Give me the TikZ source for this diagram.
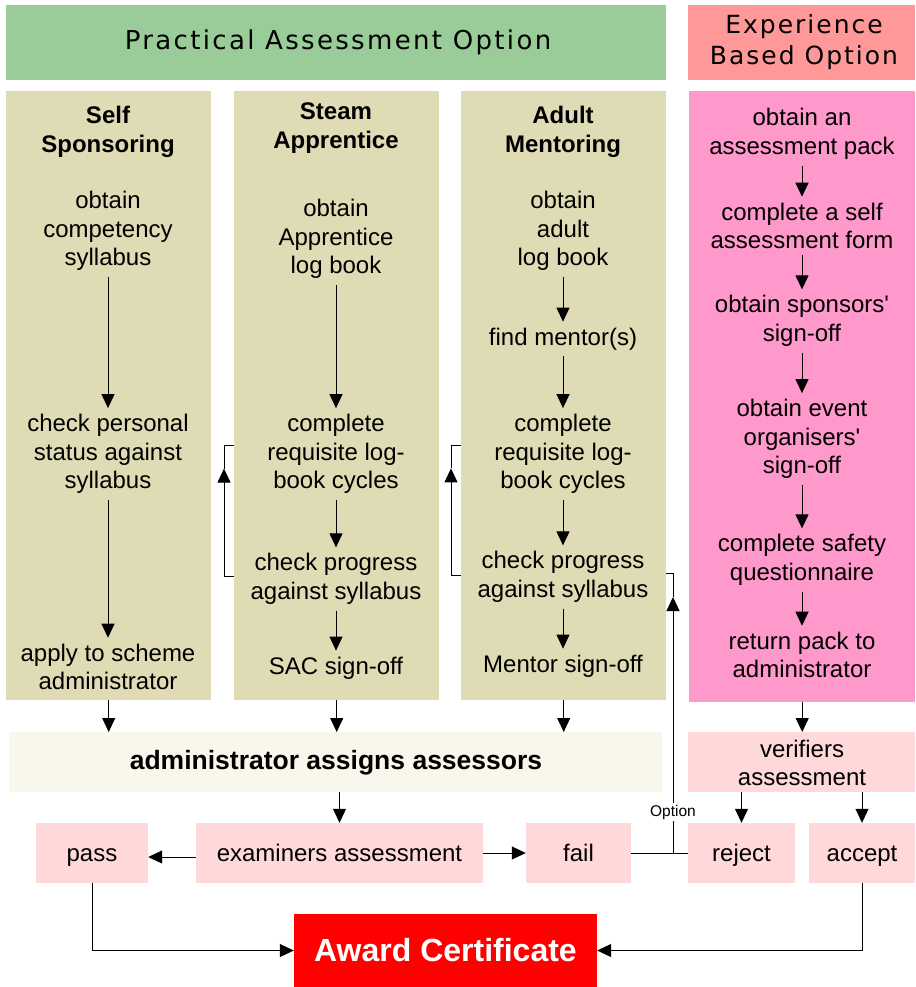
\documentclass[tikz,border=0pt]{standalone}
\usepackage{fontspec}
\setmainfont{Liberation Sans}
\newfontfamily\hdrfont[LetterSpace=8]{DejaVu Sans}
\newfontfamily\hdrfontb[LetterSpace=9]{DejaVu Sans}
\usetikzlibrary{arrows.meta,calc}
\definecolor{tanc}{HTML}{DFDBB4}
\definecolor{greenc}{HTML}{99CC99}
\definecolor{salmonc}{HTML}{FF9999}
\definecolor{pinkc}{HTML}{FF99CC}
\definecolor{creamc}{HTML}{F9F7EC}
\definecolor{lpinkc}{HTML}{FFD9D9}
\definecolor{redc}{HTML}{FF0000}
\newcommand\bodyfnt{\fontsize{24}{28.5}\selectfont}
\newcommand\hdrfnt{\hdrfont\fontsize{25}{31}\selectfont}
\newcommand\hdrfntA{\hdrfontb\fontsize{26}{31}\selectfont}
\begin{document}
\begin{tikzpicture}[x=1pt,y=-1pt,
  box/.style={draw=none, inner sep=0pt, anchor=north west},
  txt/.style={align=center, font=\bodyfnt, inner sep=6pt},
  ttl/.style={align=center, font=\bodyfnt\bfseries, inner sep=4pt},
  pbox/.style={fill=lpinkc, draw=none, inner sep=0pt, minimum height=60pt, font=\bodyfnt, align=center, text height=19pt, text depth=3pt},
  arr/.style={-{Triangle[length=14pt,width=13pt]}, line width=1pt},
  ln/.style={line width=1pt}]
\useasboundingbox (0,0) rectangle (915,987);
\fill[white] (0,0) rectangle (915,987);

% headers
\node[box, fill=greenc, minimum width=660pt, minimum height=75pt] (hdrA) at (6,5) {};
\node[font=\hdrfntA] (hdrAt) at (338,42) {Practical Assessment Option};
\node[box, fill=salmonc, minimum width=227pt, minimum height=75pt] (hdrB) at (688,5) {};
\node[font=\hdrfnt, align=center] (hdrBt) at (804,42) {Experience\\Based Option};

% column boxes
\node[box, fill=tanc, minimum width=205pt, minimum height=609pt] (c1box) at (6,91) {};
\node[box, fill=tanc, minimum width=205pt, minimum height=609pt] (c2box) at (234,91) {};
\node[box, fill=tanc, minimum width=205pt, minimum height=609pt] (c3box) at (461,91) {};
\node[box, fill=pinkc, minimum width=226pt, minimum height=611pt] (c4box) at (689,91) {};

% column 1
\node[ttl] (c1t) at (108,132) {Self\\Sponsoring};
\node[txt] (c1a) at (108,231) {obtain\\competency\\syllabus};
\node[txt] (c1b) at (108,454) {check personal\\status against\\syllabus};
\node[txt] (c1c) at (108,667) {apply to scheme\\administrator};
\draw[arr] (c1a.south) -- (c1b.north);
\draw[arr] (c1b.south) -- (c1c.north);

% column 2
\node[ttl] (c2t) at (336,128) {Steam\\Apprentice};
\node[txt] (c2a) at (336,239) {obtain\\Apprentice\\log book};
\node[txt] (c2b) at (336,454) {complete\\requisite log-\\book cycles};
\node[txt] (c2c) at (336,579) {check progress\\against syllabus};
\node[txt] (c2d) at (336,668) {SAC sign-off};
\draw[arr] (c2a.south) -- (c2b.north);
\draw[arr] (c2b.south) -- (c2c.north);
\draw[arr] (c2c.south) -- (c2d.north);
\coordinate (l2a) at ($(c2box.west|-c2c)+(-10,-3)$);
\coordinate (l2b) at ($(c2box.west|-c2b)+(-10,-9)$);
\coordinate (l2m) at ($(l2a)!0.82!(l2b)$);
\draw[ln] ($(c2box.west|-c2c)+(0,-3)$) -- (l2a);
\draw[arr] (l2a) -- (l2m);
\draw[ln] (l2m) -- (l2b) -- ($(c2box.west|-c2b)+(0,-9)$);

% column 3
\node[ttl] (c3t) at (563,132) {Adult\\Mentoring};
\node[txt] (c3a) at (563,231) {obtain\\adult\\log book};
\node[txt] (c3b) at (563,339) {find mentor(s)};
\node[txt] (c3c) at (563,454) {complete\\requisite log-\\book cycles};
\node[txt] (c3d) at (563,577) {check progress\\against syllabus};
\node[txt] (c3e) at (563,666) {Mentor sign-off};
\draw[arr] (c3a.south) -- (c3b.north);
\draw[arr] (c3b.south) -- (c3c.north);
\draw[arr] (c3c.south) -- (c3d.north);
\draw[arr] (c3d.south) -- (c3e.north);
\coordinate (l3a) at ($(c3box.west|-c3d)+(-10,-2)$);
\coordinate (l3b) at ($(c3box.west|-c3c)+(-10,-9)$);
\coordinate (l3m) at ($(l3a)!0.82!(l3b)$);
\draw[ln] ($(c3box.west|-c3d)+(0,-2)$) -- (l3a);
\draw[arr] (l3a) -- (l3m);
\draw[ln] (l3m) -- (l3b) -- ($(c3box.west|-c3c)+(0,-9)$);

% column 4
\node[txt] (c4a) at (802,134) {obtain an\\assessment pack};
\node[txt] (c4b) at (802,226) {complete a self\\assessment form};
\node[txt] (c4c) at (802,321) {obtain sponsors\textquotesingle\\sign-off};
\node[txt] (c4d) at (802,439) {obtain event\\organisers\textquotesingle\\sign-off};
\node[txt] (c4e) at (802,560) {complete safety\\questionnaire};
\node[txt] (c4f) at (802,655) {return pack to\\administrator};
\draw[arr] (c4a.south) -- (c4b.north);
\draw[arr] (c4b.south) -- (c4c.north);
\draw[arr] (c4c.south) -- (c4d.north);
\draw[arr] (c4d.south) -- (c4e.north);
\draw[arr] (c4e.south) -- (c4f.north);

% admin and verifiers
\node[box, fill=creamc, minimum width=653pt, minimum height=60pt] (admin) at (9,732) {};
\node[font=\fontsize{26.5}{30}\selectfont\bfseries] (admint) at (336,763) {administrator assigns assessors};
\node[box, fill=lpinkc, minimum width=227pt, minimum height=60pt] (verif) at (688,732) {};
\node[txt] (veriftxt) at (802,763) {verifiers\\assessment};

\draw[arr] (c1box.south) -- (c1box.south|-admin.north);
\draw[arr] (c2box.south) -- (c2box.south|-admin.north);
\draw[arr] (c3box.south) -- (c3box.south|-admin.north);
\draw[arr] (c4box.south) -- (c4box.south|-verif.north);

% bottom row
\node[pbox, minimum width=112pt] (pass) at (92,853) {pass};
\node[pbox, minimum width=287pt] (exam) at (339.5,853) {examiners assessment};
\node[pbox, minimum width=105pt] (fail) at (578.5,853) {fail};
\node[pbox, minimum width=107pt] (reject) at (741.5,853) {reject};
\node[pbox, minimum width=106pt] (accept) at (862,853) {accept};

\draw[arr] (exam.north|-admin.south) -- (exam.north);
\draw[arr] ($(exam.west)+(0,4)$) -- ($(pass.east)+(0,4)$);
\draw[arr] (exam.east) -- (fail.west);
\draw[arr] (reject.north|-verif.south) -- (reject.north);
\draw[arr] (accept.north|-verif.south) -- (accept.north);

% option feedback
\coordinate (j) at (673,853);
\coordinate (jt) at (673,573);
\coordinate (jm) at (673,597);
\draw[ln] (fail.east) -- (reject.west);
\draw[arr] (j) -- (jm);
\draw[ln] (jm) -- (jt) -- (c3box.east|-jt);
\node[fill=white, inner sep=1.5pt, font=\fontsize{15.5}{18}\selectfont] (opt) at (673,812) {Option};

% award
\node[fill=redc, minimum width=303pt, minimum height=73pt, inner sep=0pt, text=white, font=\fontsize{32}{36}\selectfont\bfseries] (award) at (445.5,950.5) {Award Certificate};
\draw[arr] (pass.south) |- (award.west);
\draw[arr] (accept.south) |- (award.east);
\end{tikzpicture}
\end{document}
